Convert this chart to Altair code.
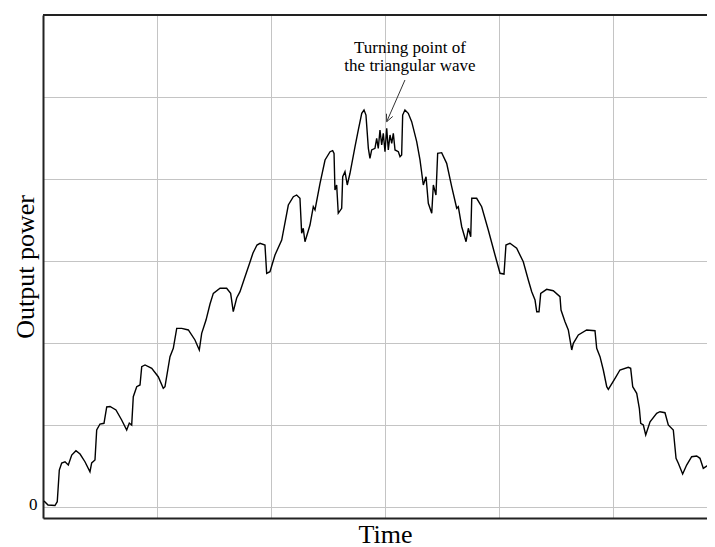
import altair as alt
import pandas as pd

# Output power trace (time and power in grid divisions)
time = [0.009, 0.044, 0.105, 0.125, 0.143, 0.164, 0.193, 0.222, 0.252, 0.289,
        0.325, 0.368, 0.412, 0.427, 0.456, 0.471, 0.500, 0.535, 0.559, 0.588,
        0.640, 0.690, 0.734, 0.757, 0.778, 0.792, 0.822, 0.851, 0.866, 0.895,
        0.954, 1.011, 1.055, 1.070, 1.114, 1.143, 1.173, 1.217, 1.275, 1.333,
        1.371, 1.392, 1.430, 1.465, 1.494, 1.553, 1.611, 1.646, 1.669, 1.699,
        1.728, 1.772, 1.816, 1.842, 1.877, 1.904, 1.947, 1.962, 1.991, 2.035,
        2.094, 2.152, 2.196, 2.225, 2.254, 2.269, 2.283, 2.298, 2.342, 2.371,
        2.386, 2.430, 2.474, 2.518, 2.541, 2.553, 2.561, 2.576, 2.590, 2.620,
        2.629, 2.649, 2.669, 2.693, 2.737, 2.766, 2.796, 2.816, 2.833, 2.854,
        2.868, 2.883, 2.912, 2.927, 2.941, 2.956, 2.971, 2.985, 3.000, 3.015,
        3.029, 3.044, 3.059, 3.073, 3.088, 3.117, 3.132, 3.146, 3.155, 3.175,
        3.204, 3.234, 3.278, 3.307, 3.336, 3.360, 3.380, 3.410, 3.424, 3.447,
        3.462, 3.497, 3.541, 3.585, 3.629, 3.643, 3.673, 3.711, 3.731, 3.752,
        3.761, 3.804, 3.848, 3.906, 3.965, 4.009, 4.044, 4.061, 4.096, 4.155,
        4.213, 4.257, 4.287, 4.316, 4.331, 4.351, 4.366, 4.418, 4.476, 4.535,
        4.544, 4.579, 4.608, 4.638, 4.652, 4.696, 4.769, 4.842, 4.857, 4.886,
        4.915, 4.945, 4.959, 5.018, 5.061, 5.134, 5.155, 5.173, 5.208, 5.231,
        5.243, 5.266, 5.287, 5.325, 5.383, 5.412, 5.456, 5.485, 5.529, 5.553,
        5.573, 5.611, 5.646, 5.690, 5.734, 5.763, 5.792, 5.822, 5.857, 5.875,
        5.880, 5.895, 5.930]
power = [0.073, 0.024, 0.018, 0.065, 0.451, 0.537, 0.552, 0.512, 0.634, 0.687,
         0.646, 0.552, 0.430, 0.537, 0.573, 0.939, 1.012, 1.021, 1.220, 1.226,
         1.183, 1.061, 0.939, 1.024, 1.000, 1.345, 1.467, 1.488, 1.711, 1.732,
         1.691, 1.589, 1.448, 1.467, 1.833, 1.935, 2.179, 2.179, 2.159, 2.037,
         1.915, 2.118, 2.280, 2.476, 2.606, 2.667, 2.667, 2.606, 2.382, 2.549,
         2.626, 2.809, 2.988, 3.098, 3.195, 3.216, 3.195, 2.850, 2.870, 3.073,
         3.256, 3.683, 3.784, 3.805, 3.765, 3.338, 3.399, 3.235, 3.439, 3.662,
         3.622, 3.948, 4.232, 4.333, 4.345, 4.313, 3.866, 3.927, 3.582, 3.643,
         4.028, 4.089, 3.927, 4.070, 4.394, 4.598, 4.801, 4.841, 4.780, 4.374,
         4.252, 4.354, 4.374, 4.496, 4.374, 4.598, 4.415, 4.557, 4.333, 4.618,
         4.354, 4.537, 4.435, 4.557, 4.354, 4.333, 4.272, 4.293, 4.780, 4.841,
         4.801, 4.699, 4.455, 4.232, 3.927, 4.028, 3.704, 3.582, 3.927, 3.805,
         4.313, 4.321, 4.191, 3.906, 3.643, 3.662, 3.418, 3.235, 3.399, 3.296,
         3.765, 3.765, 3.662, 3.378, 3.073, 2.850, 2.841, 3.195, 3.216, 3.155,
         2.991, 2.768, 2.626, 2.524, 2.382, 2.382, 2.606, 2.655, 2.638, 2.565,
         2.402, 2.260, 2.159, 1.915, 1.996, 2.098, 2.159, 2.150, 1.935, 1.833,
         1.671, 1.467, 1.435, 1.570, 1.671, 1.704, 1.691, 1.467, 1.387, 1.204,
         1.021, 1.000, 0.878, 1.040, 1.143, 1.162, 1.150, 1.000, 0.939, 0.594,
         0.533, 0.402, 0.512, 0.613, 0.622, 0.594, 0.472, 0.500, 0.484, 0.329,
         0.065, 0.045, 0.040]

# Annotation
note_lines = ["Turning point of", "the triangular wave"]
note_x = [3.219]
note_y = [5.540]
arrow_x = [3.175, 3.015, 3.015]
arrow_y = [5.207, 4.699, 4.699]
arrow_x2 = [3.015, 3.068, 3.013]
arrow_y2 = [4.699, 4.763, 4.796]

grid_ticks_x = [1, 2, 3, 4, 5]
grid_ticks_y = [0, 1, 2, 3, 4, 5]
top_value = [6]

SERIF = "Liberation Serif"
GRID = "#c4c4c4"
FRAME = "#222222"
X_MAX = 664 / 114  # visible part of the time axis
PLOT_W = 664
PLOT_H = 503

df = pd.DataFrame({"time": time, "power": power})
x_scale = alt.Scale(domain=[0, X_MAX], nice=False, zero=False)
y_scale = alt.Scale(domain=[-0.134, 6], nice=False, zero=False)

line = alt.Chart(df).mark_line(color="black", strokeWidth=1.4, clip=True).encode(
    x=alt.X("time:Q", scale=x_scale,
            axis=alt.Axis(values=grid_ticks_x, labels=False, ticks=False,
                          domain=True, domainColor=FRAME, domainWidth=2,
                          grid=True, gridColor=GRID, gridWidth=1,
                          title="Time", titleFont=SERIF, titleFontSize=26,
                          titleFontWeight="normal", titleColor="black",
                          titleBaseline="alphabetic", titleAlign="center",
                          titleX=342, titleY=24)),
    y=alt.Y("power:Q", scale=y_scale,
            axis=alt.Axis(values=grid_ticks_y, labelExpr="datum.value == 0 ? '0' : ''",
                          ticks=False, domain=True, domainColor=FRAME, domainWidth=2,
                          grid=True, gridColor=GRID, gridWidth=1,
                          labelFont=SERIF, labelFontSize=17, labelColor="black",
                          labelPadding=6, labelBaseline="middle", labelOffset=-3,
                          title="Output power", titleFont=SERIF, titleFontSize=26,
                          titleFontWeight="normal", titleColor="black",
                          titleBaseline="alphabetic", titleAlign="center",
                          titleX=-10, titleY=251.5, titleAngle=270)),
)

top_df = pd.DataFrame({"y": top_value})
top_border = alt.Chart(top_df).mark_rule(color=FRAME, strokeWidth=2).encode(
    y=alt.Y("y:Q", scale=y_scale), x=alt.value(0), x2=alt.value(PLOT_W))

note_df = pd.DataFrame({"x": note_x, "y": note_y, "t": [note_lines]})
note = alt.Chart(note_df).mark_text(font=SERIF, fontSize=17, color="black",
                                    align="center", baseline="alphabetic",
                                    lineHeight=18).encode(
    x=alt.X("x:Q", scale=x_scale), y=alt.Y("y:Q", scale=y_scale), text="t")

arrow_df = pd.DataFrame({"x": arrow_x, "y": arrow_y, "x2": arrow_x2, "y2": arrow_y2})
arrow = alt.Chart(arrow_df).mark_rule(color="#333", strokeWidth=1).encode(
    x=alt.X("x:Q", scale=x_scale), y=alt.Y("y:Q", scale=y_scale),
    x2="x2:Q", y2="y2:Q")

chart = alt.layer(line, top_border, arrow, note).properties(
    width=PLOT_W, height=PLOT_H,
    autosize=alt.AutoSizeParams(type="none"),
    padding={"left": 35, "top": 7, "right": 0, "bottom": 32},
).configure_view(strokeWidth=0).configure(background="white")

chart.save("out.html", embed_options={"renderer": "svg", "actions": False})
